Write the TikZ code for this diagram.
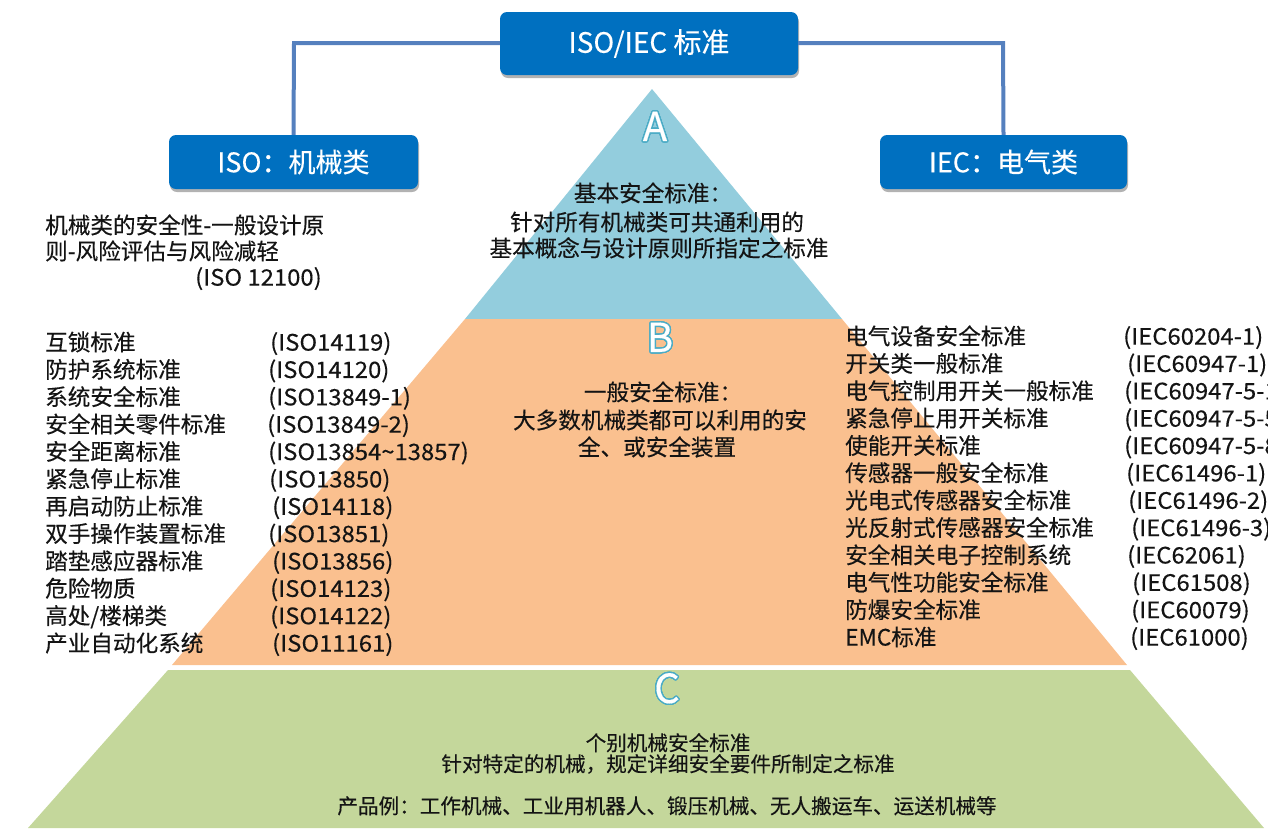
\documentclass[tikz,border=0pt]{standalone}
\usepackage{fontspec}
\setmainfont{Noto Sans CJK SC}[FakeBold=0.3]
\newfontfamily\codefont{Noto Sans CJK SC}[FakeStretch=1.055, FakeBold=0.3]
\usepackage{contour}
\usetikzlibrary{shadows}
\definecolor{boxblue}{HTML}{0070C0}
\definecolor{linkblue}{HTML}{5580BE}
\definecolor{tA}{HTML}{93CDDD}
\definecolor{tB}{HTML}{FAC08F}
\definecolor{tC}{HTML}{C4D79B}
\definecolor{letterline}{HTML}{4BACC6}
\definecolor{ink}{HTML}{141414}
\contourlength{1.4pt}
\tikzset{
  bluebox/.style={draw=none, fill=boxblue, rounded corners=7pt, text=white, inner sep=0pt,
    drop shadow={shadow xshift=1pt, shadow yshift=-3pt, opacity=0.3, fill=black}},
  link/.style={draw=linkblue, line width=4pt},
  item/.style={anchor=base west, inner sep=0pt, text=ink, font=\fontsize{22.6}{27}\selectfont},
  code/.style={anchor=base west, inner sep=0pt, text=ink, font=\codefont\fontsize{22.6}{27}\selectfont},
  ctr/.style={anchor=base, inner sep=0pt, text=ink, font=\fontsize{22.6}{27}\selectfont},
  ctrs/.style={anchor=base, inner sep=0pt, text=ink, font=\fontsize{20.6}{24}\selectfont},
  letter/.style={inner sep=0pt, font=\fontsize{40}{40}\selectfont}
}
\begin{document}
\begin{tikzpicture}[x=1pt,y=-1pt]
\useasboundingbox (0,0) rectangle (1268,828);
\clip (0,0) rectangle (1268,828);
% pyramid layers
\fill[tA] (652,89) -- (842,319) -- (465,319) -- cycle;
\fill[tB] (465,319) -- (842,319) -- (1127,665) -- (172,665) -- cycle;
\fill[tC] (168,670) -- (1130,670) -- (1264,828) -- (28,828) -- cycle;
% boxes
\node[bluebox, minimum width=298pt, minimum height=63pt, font=\fontsize{28}{30}\selectfont] (top) at (649,43.5) {ISO/IEC 标准};
\node[bluebox, minimum width=249pt, minimum height=54pt, font=\fontsize{27}{30}\selectfont] (iso) at (293.5,162) {ISO：机械类};
\node[bluebox, minimum width=247pt, minimum height=54pt, font=\fontsize{27}{30}\selectfont] (iec) at (1003.5,162) {IEC：电气类};
\coordinate (lc) at (294,43);
\coordinate (rc) at (1003,43);
\draw[link] (top.west |- lc) -- (lc) -- (iso.north);
\draw[link] (top.east |- rc) -- (rc) -- (iec.north);
% letters
\node[letter] (LA) at (655,127) {\contour{letterline}{\textcolor{white}{A}}};
\node[letter] (LB) at (660,338) {\contour{letterline}{\textcolor{white}{B}}};
\node[letter] (LCc) at (667,689) {\contour{letterline}{\textcolor{white}{C}}};
% A text
\node[ctr] (a1) at (653,201.6) {基本安全标准：};
\node[ctr] (a2) at (657,230.6) {针对所有机械类可共通利用的};
\node[ctr] (a3) at (659,256.6) {基本概念与设计原则所指定之标准};
% B text
\node[ctr] (b1) at (663,400.6) {一般安全标准：};
\node[ctr] (b2) at (660,428.6) {大多数机械类都可以利用的安};
\node[ctr] (b3) at (657,455.6) {全、或安全装置};
% C text
\node[ctrs] (c1) at (668,750.6) {个别机械安全标准};
\node[ctrs] (c2) at (668,771.6) {针对特定的机械，规定详细安全要件所制定之标准};
\node[ctrs] (c3) at (667,813.6) {产品例：工作机械、工业用机器人、锻压机械、无人搬运车、运送机械等};
% ISO 12100 text
\node[item] (g1) at (45,233.6) {机械类的安全性-一般设计原};
\node[item] (g2) at (45,259.6) {则-风险评估与风险减轻};
\node[code] (g3) at (195,285.6) {(ISO 12100)};
% left list
\foreach \nm/\cd/\cx [count=\i] in {
  互锁标准/(ISO14119)/270,
  防护系统标准/(ISO14120)/268,
  系统安全标准/(ISO13849-1)/268,
  安全相关零件标准/(ISO13849-2)/267,
  安全距离标准/(ISO13854\textasciitilde13857)/268,
  紧急停止标准/(ISO13850)/269,
  再启动防止标准/(ISO14118)/272,
  双手操作装置标准/(ISO13851)/268,
  踏垫感应器标准/(ISO13856)/272,
  危险物质/(ISO14123)/270,
  {高处/楼梯类}/(ISO14122)/270,
  产业自动化系统/(ISO11161)/272}{
  \node[item] (L\i) at (45,{342+27.36*(\i-1)+8.6}) {\nm};
  \node[code] (LC\i) at (\cx,{342+27.36*(\i-1)+8.6}) {\cd};
}
% right list
\foreach \nm/\cd/\cx [count=\i] in {
  电气设备安全标准/(IEC60204-1)/1123,
  开关类一般标准/(IEC60947-1)/1127,
  电气控制用开关一般标准/(IEC60947-5-1)/1124,
  紧急停止用开关标准/(IEC60947-5-5)/1124,
  使能开关标准/(IEC60947-5-8)/1124,
  传感器一般安全标准/(IEC61496-1)/1126,
  光电式传感器安全标准/(IEC61496-2)/1128,
  光反射式传感器安全标准/(IEC61496-3)/1131,
  安全相关电子控制系统/(IEC62061)/1127,
  电气性功能安全标准/(IEC61508)/1132,
  防爆安全标准/(IEC60079)/1131,
  EMC标准/(IEC61000)/1130}{
  \node[item] (R\i) at (845,{336+27.36*(\i-1)+8.6}) {\nm};
  \node[code] (RC\i) at (\cx,{336+27.36*(\i-1)+8.6}) {\cd};
}
\end{tikzpicture}
\end{document}
